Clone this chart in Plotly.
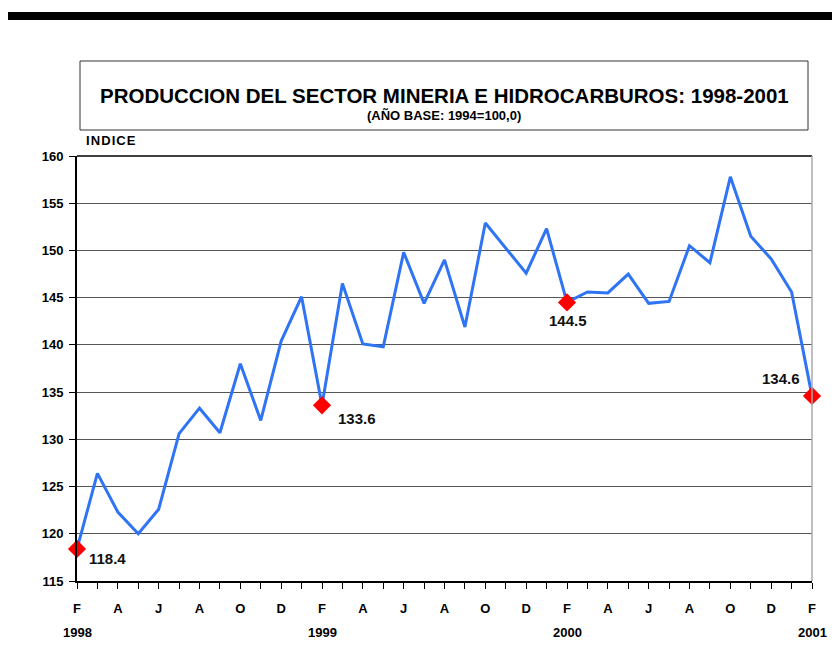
# === IMPORTS ===
import plotly.graph_objects as go

# === DADOS ===
meses = ["F", "M", "A", "M", "J", "J", "A", "S", "O", "N", "D", "E"] * 3 + ["F"]
anos = {0: "1998", 12: "1999", 24: "2000", 36: "2001"}
indice = [
    118.4, 126.4, 122.3, 120.0, 122.6, 130.6, 133.3, 130.7, 138.0, 132.0, 140.4, 145.1,
    133.6, 146.5, 140.1, 139.8, 149.8, 144.4, 149.0, 141.9, 152.9, 150.3, 147.6, 152.3,
    144.5, 145.6, 145.5, 147.5, 144.4, 144.6, 150.5, 148.7, 157.8, 151.5, 149.1, 145.6,
    134.6,
]
destaques = [0, 12, 24, 36]

x = list(range(len(indice)))
tick_pos = list(range(0, len(indice), 2))
tick_txt = [meses[i] for i in tick_pos]

FONTE = "Liberation Sans, Arial"

# === CONFIGURAÇÕES DE LAYOUT ===
# a página tem 8px de margem no body: a figura é reduzida para caber na janela
L, T, W_PLOT, H_PLOT = 69, 148, 735, 425
LARG, ALT = 832, 660


def py(y_px):
    # converte posição vertical (px da janela) em coordenada paper
    return (T + 8 + H_PLOT - y_px) / H_PLOT


def px_(x_px):
    return (x_px - 8 - L) / W_PLOT


# === FIGURA ===
fig = go.Figure()
fig.add_trace(go.Scatter(
    x=x, y=indice, mode="lines",
    line=dict(color="#2f74f4", width=3),
    showlegend=False, hoverinfo="skip",
))
fig.add_trace(go.Scatter(
    x=destaques, y=[indice[i] for i in destaques], mode="markers",
    marker=dict(symbol="diamond", color="#ff0000", size=14),
    showlegend=False, cliponaxis=False,
))

# rótulos dos pontos destacados
posicoes = {0: (10, -10, "left"), 12: (14, -13, "left"), 24: (1, -18, "center"), 36: (-10, 17, "right")}
for i in destaques:
    dx, dy, al = posicoes[i]
    fig.add_annotation(
        x=i, y=indice[i], text=f"<b>{indice[i]:.1f}</b>", showarrow=False,
        xshift=dx, yshift=dy, xanchor=al,
        font=dict(family=FONTE, size=15, color="#111111"),
    )

# anos abaixo dos meses
for i, ano in anos.items():
    fig.add_annotation(
        x=i, xref="x", yref="paper", y=py(632), yanchor="middle", text=f"<b>{ano}</b>",
        showarrow=False, font=dict(family=FONTE, size=13, color="black"),
    )

# barra preta do topo e caixa do título
fig.add_shape(type="rect", xref="paper", yref="paper",
              x0=px_(0), x1=px_(845), y0=py(20), y1=py(12),
              fillcolor="black", line=dict(width=0))
fig.add_shape(type="rect", xref="paper", yref="paper",
              x0=px_(80), x1=px_(808), y0=py(130), y1=py(61),
              fillcolor="white", line=dict(color="#333333", width=1))
fig.add_annotation(
    xref="paper", yref="paper", x=px_(444), y=py(95), yanchor="middle", showarrow=False,
    text="<b>PRODUCCION DEL SECTOR MINERIA E HIDROCARBUROS: 1998-2001</b>",
    font=dict(family=FONTE, size=20.5, color="black"),
)
fig.add_annotation(
    xref="paper", yref="paper", x=px_(444), y=py(115), yanchor="middle", showarrow=False,
    text="<b>(AÑO BASE: 1994=100,0)</b>",
    font=dict(family=FONTE, size=13, color="black"),
)
fig.add_annotation(
    xref="paper", yref="paper", x=px_(84), y=py(141), yanchor="middle", showarrow=False,
    xanchor="left", text="<b>I\u200aN\u200aD\u200aI\u200aC\u200aE</b>",
    font=dict(family=FONTE, size=13, color="black"),
)

fig.update_layout(
    width=LARG, height=ALT,
    margin=dict(l=L, r=LARG - L - W_PLOT, t=T, b=ALT - T - H_PLOT),
    paper_bgcolor="white", plot_bgcolor="white",
    font=dict(family=FONTE, color="black"),
)
fig.update_xaxes(
    range=[0, 36], tickvals=tick_pos, ticktext=tick_txt,
    tickfont=dict(family=FONTE, size=13, weight="bold"),
    ticks="outside", ticklen=6, tickcolor="black", showgrid=False,
    ticklabelstandoff=8,
    minor=dict(tickvals=x, ticks="outside", ticklen=6, tickcolor="black"),
    showline=True, linecolor="black", linewidth=2, zeroline=False,
)
fig.update_yaxes(
    range=[115, 160], dtick=5, tick0=115,
    tickfont=dict(family=FONTE, size=13, weight="bold"),
    ticks="outside", ticklen=6, tickcolor="black", ticklabelstandoff=3,
    showgrid=True, gridcolor="#555555", gridwidth=1.2,
    showline=True, linecolor="black", linewidth=2, zeroline=False,
)
# bordas superior e direita
fig.add_shape(type="line", xref="paper", yref="paper", x0=0, x1=1, y0=1, y1=1,
              line=dict(color="black", width=1.5))
fig.add_shape(type="line", xref="paper", yref="paper", x0=1, x1=1, y0=0, y1=1,
              line=dict(color="#aaaaaa", width=1.5))

fig.write_html("out.html")
